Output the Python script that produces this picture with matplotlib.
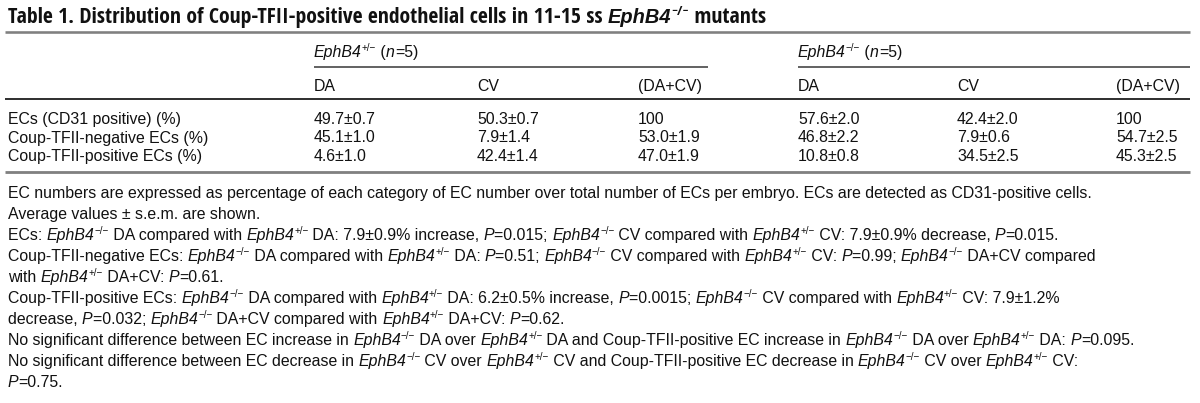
import os
import matplotlib
matplotlib.use("Agg")
import matplotlib.pyplot as plt
from matplotlib import font_manager
from matplotlib.font_manager import FontProperties
from matplotlib.lines import Line2D

# ---------------- data ----------------
title_text = "Table 1. Distribution of Coup-TFII-positive endothelial cells in 11-15 ss "
title_gene = "EphB4"
title_gene_sup = "\u2212/\u2212"
title_tail = " mutants"

gene = "EphB4"
het_sup = "+/\u2212"
mut_sup = "\u2212/\u2212"
group_n = [5, 5]
group_sups = [het_sup, mut_sup]

col_labels = ["DA", "CV", "(DA+CV)"]
row_labels = ["ECs (CD31 positive) (%)",
              "Coup-TFII-negative ECs (%)",
              "Coup-TFII-positive ECs (%)"]
het_values = [["49.7\u00b10.7", "50.3\u00b10.7", "100"],
              ["45.1\u00b11.0", "7.9\u00b11.4", "53.0\u00b11.9"],
              ["4.6\u00b11.0", "42.4\u00b11.4", "47.0\u00b11.9"]]
mut_values = [["57.6\u00b12.0", "42.4\u00b12.0", "100"],
              ["46.8\u00b12.2", "7.9\u00b10.6", "54.7\u00b12.5"],
              ["10.8\u00b10.8", "34.5\u00b12.5", "45.3\u00b12.5"]]

HET = [(gene, "i"), (het_sup, "s")]
MUT = [(gene, "i"), (mut_sup, "s")]
P = [("P", "i")]


def T(s):
    return [(s, "n")]


footnotes = [
    T("EC numbers are expressed as percentage of each category of EC number over total number of ECs per embryo. ECs are detected as CD31-positive cells."),
    T("Average values \u00b1 s.e.m. are shown."),
    T("ECs: ") + MUT + T(" DA compared with ") + HET + T(" DA: 7.9\u00b10.9% increase, ") + P + T("=0.015; ")
    + MUT + T(" CV compared with ") + HET + T(" CV: 7.9\u00b10.9% decrease, ") + P + T("=0.015."),
    T("Coup-TFII-negative ECs: ") + MUT + T(" DA compared with ") + HET + T(" DA: ") + P + T("=0.51; ")
    + MUT + T(" CV compared with ") + HET + T(" CV: ") + P + T("=0.99; ") + MUT + T(" DA+CV compared"),
    T("with ") + HET + T(" DA+CV: ") + P + T("=0.61."),
    T("Coup-TFII-positive ECs: ") + MUT + T(" DA compared with ") + HET + T(" DA: 6.2\u00b10.5% increase, ") + P
    + T("=0.0015; ") + MUT + T(" CV compared with ") + HET + T(" CV: 7.9\u00b11.2%"),
    T("decrease, ") + P + T("=0.032; ") + MUT + T(" DA+CV compared with ") + HET + T(" DA+CV: ") + P + T("=0.62."),
    T("No significant difference between EC increase in ") + MUT + T(" DA over ") + HET
    + T(" DA and Coup-TFII-positive EC increase in ") + MUT + T(" DA over ") + HET + T(" DA: ") + P + T("=0.095."),
    T("No significant difference between EC decrease in ") + MUT + T(" CV over ") + HET
    + T(" CV and Coup-TFII-positive EC decrease in ") + MUT + T(" CV over ") + HET + T(" CV:"),
    P + T("=0.75."),
]

# ---------------- layout (pixels, y from top) ----------------
W, H, DPI = 1200, 403, 100
LEFT = 8
RIGHT = 1190
col_x = [[314, 477, 638], [798, 957, 1116]]
group_x = [314, 798]
subrule_x = [(314, 708), (798, RIGHT)]
TEXT_COLOR = "#111111"

ttf = font_manager.fontManager.ttflist
names = {f.name for f in ttf}
BODY = "Liberation Sans" if "Liberation Sans" in names else "DejaVu Sans"


def find_condensed():
    prefs = ["Liberation Sans Narrow", "Arial Narrow", "Noto Sans", "Noto Sans Condensed",
             "Noto Sans SemiCondensed", "Open Sans", "Open Sans Condensed", "DejaVu Sans",
             "DejaVu Sans Condensed", "Roboto", "Roboto Condensed"]
    cands = []
    for f in ttf:
        narrow = ("Narrow" in f.name or "Condensed" in f.name
                  or f.stretch in ("condensed", "semi-condensed", "narrow")
                  or "ondensed" in f.fname or "Narrow" in f.fname)
        if "Extra" in f.fname or "extra" in str(f.stretch) or "Ultra" in f.fname:
            continue
        if narrow and f.weight in (700, "bold") and f.style == "normal":
            cands.append(f)
    if not cands:
        return None, None

    def rank(f):
        for i, p in enumerate(prefs):
            if f.name.startswith(p):
                return i
        return 99
    cands.sort(key=rank)
    up = cands[0].fname
    base = os.path.splitext(os.path.basename(up))[0].lower()
    it = None
    for f in ttf:
        b = os.path.splitext(os.path.basename(f.fname))[0].lower()
        if "italic" in b and b.replace("italic", "").rstrip("-_ ") == base.rstrip("-_ "):
            it = f.fname
            break
    return up, it


TITLE_UP, TITLE_IT = find_condensed()

fig = plt.figure(figsize=(W / DPI, H / DPI), dpi=DPI)
fig.patch.set_facecolor("white")
renderer = fig.canvas.get_renderer()


def fx(x):
    return x / W


def fy(y):
    return 1 - y / H


def make_prop(size, style, weight, family):
    if family == "TITLE" and TITLE_UP is not None:
        if style == "i":
            if TITLE_IT is not None:
                return FontProperties(fname=TITLE_IT, size=size)
            return FontProperties(family=BODY, size=size * 0.92, weight="bold", style="italic")
        return FontProperties(fname=TITLE_UP, size=size)
    fam = BODY if family == "TITLE" else family
    return FontProperties(family=fam, size=size, weight=weight,
                          style="italic" if style == "i" else "normal")


def text_width(s, prop):
    w1, _, _ = renderer.get_text_width_height_descent("|" + s + "|", prop, ismath=False)
    w0, _, _ = renderer.get_text_width_height_descent("||", prop, ismath=False)
    return w1 - w0


def runs_width(runs, size, weight="normal", family=BODY):
    tot = 0
    for s, st in runs:
        sz = size * 0.62 if st == "s" else size
        tot += text_width(s, make_prop(sz, st, weight, family))
    return tot


def draw_runs(x, y, runs, size, weight="normal", family=BODY):
    size_px = size * DPI / 72
    for s, st in runs:
        sz = size * 0.62 if st == "s" else size
        yy = y - size_px * 0.36 if st == "s" else y
        prop = make_prop(sz, st, weight, family)
        fig.text(fx(x), fy(yy), s, fontproperties=prop, color=TEXT_COLOR,
                 ha="left", va="baseline")
        x += text_width(s, prop)


def hline(y, x0, x1, lw_px, color):
    fig.add_artist(Line2D([fx(x0), fx(x1)], [fy(y), fy(y)], transform=fig.transFigure,
                          lw=lw_px * 0.72, color=color, solid_capstyle="butt"))


# font sizes fitted to measured line widths
ref = 10.0
body_size = ref * 1088 / runs_width(footnotes[0], ref)
title_runs = [(title_text, "n"), (title_gene, "i"), (title_gene_sup, "s"), (title_tail, "n")]
title_size = ref * 758 / runs_width(title_runs, ref, "bold", "TITLE")

# title
draw_runs(LEFT, 23, title_runs, title_size, "bold", "TITLE")

# rules
hline(31.5, LEFT - 3, RIGHT, 2.6, "#808080")
for x0, x1 in subrule_x:
    hline(67, x0, x1, 1.5, "#333333")
hline(99, LEFT - 3, RIGHT, 2.0, "#333333")
hline(172, LEFT - 3, RIGHT, 2.8, "#808080")

# group headers
for gx, sup, n in zip(group_x, group_sups, group_n):
    draw_runs(gx, 57, [(gene, "i"), (sup, "s"), (" (", "n"), ("n", "i"), ("=%d)" % n, "n")], body_size)

# column headers
for g in range(2):
    for cx, lab in zip(col_x[g], col_labels):
        draw_runs(cx, 91, T(lab), body_size)

# rows
row_base = [124, 142.5, 161]
for r, lab in enumerate(row_labels):
    draw_runs(LEFT, row_base[r], T(lab), body_size)
    for g, vals in enumerate([het_values, mut_values]):
        for c in range(3):
            draw_runs(col_x[g][c], row_base[r], T(vals[r][c]), body_size)

# footnotes
for k, runs in enumerate(footnotes):
    draw_runs(LEFT, 198 + 21.0 * k, runs, body_size)

fig.savefig("out.png", dpi=DPI, facecolor="white")
